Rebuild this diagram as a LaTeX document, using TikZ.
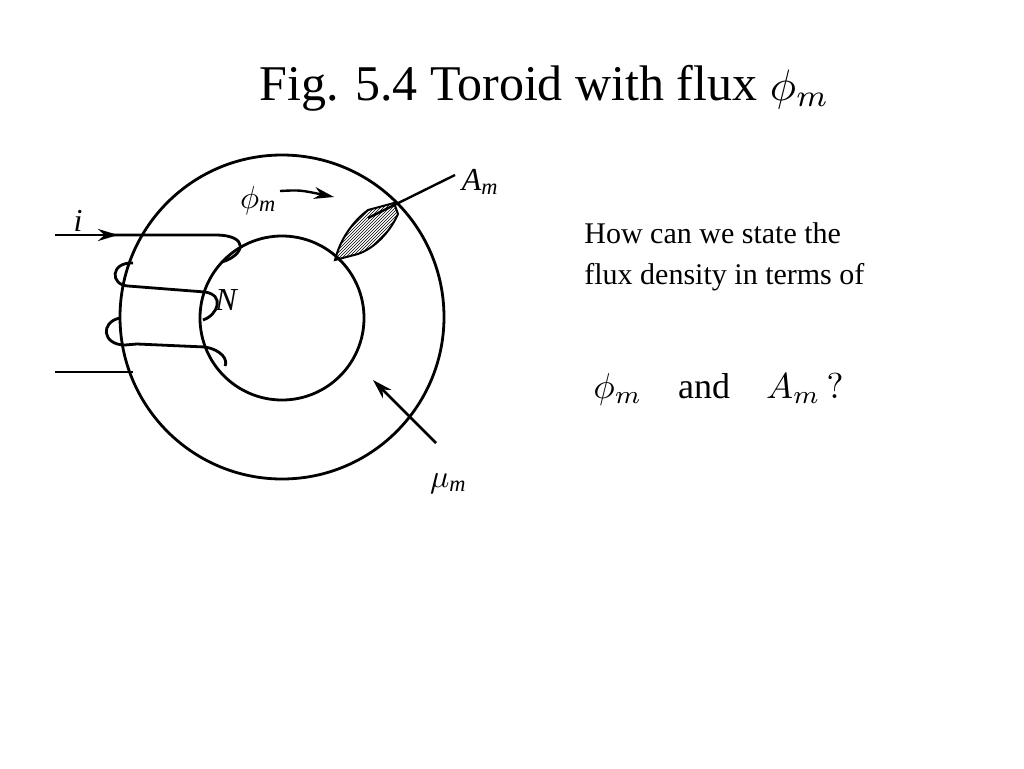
\documentclass[tikz,border=0pt]{standalone}
\usepackage{graphicx}
\usepackage{fontspec}
\setmainfont{Liberation Serif}
\usetikzlibrary{patterns,arrows.meta}
\newcommand\mscale[2]{\scalebox{#1}{\fontsize{10}{12}\selectfont$#2$}}
\begin{document}
\begin{tikzpicture}[x=1pt,y=-1pt,line width=2.8pt,
  lbl/.style={font=\fontsize{32}{34}\selectfont\itshape,inner sep=0pt},
  arr/.style={-{Stealth[length=20pt,width=12pt]}}]
\useasboundingbox (0,0) rectangle (1024,768);
\node[font=\fontsize{50}{54}\selectfont,anchor=base west,inner sep=0pt] (title) at (258,100) {Fig. 5.4 Toroid with flux \mscale{4.4}{\phi_m}};
\node[draw,circle,minimum size=324pt,inner sep=0pt] (outer) at (282,317) {};
\node[draw,circle,minimum size=164pt,inner sep=0pt] (inner) at (282,318) {};
% hatched cross-section
\draw[line width=2pt,pattern=north east lines] (335,260) .. controls (340,240) and (352,222) .. (368,210) -- (394,203) -- (398,214) .. controls (390,232) and (375,248) .. (358,254) -- cycle;
\coordinate (Aend) at (368,218);
\node[lbl] (Am) at (480,182) {A\textsubscript{m}};
\draw[line width=2.4pt] (455,175) -- (Aend);
% phi
\node[lbl] (phi) at (258,200) {\mscale{3.2}{\phi}\textsubscript{m}};
\coordinate (pa) at (280,191); \coordinate (pb) at (334,197);
\draw[arr,line width=2.4pt] (pa) .. controls (300,190) .. (pb);
% mu
\node[lbl] (mu) at (448,484) {\mscale{3.2}{\mu}\textsubscript{m}};
\coordinate (ma) at (436,443); \coordinate (mb) at (373,380);
\draw[arr] (ma) -- (mb);
% current
\node[lbl] (i) at (78,221) {i};
\coordinate (w0) at (55,235);
\draw[arr] (w0) -- (118,235);
\draw (110,235) -- (215,235) .. controls (250,235) and (245,255) .. (222,262);
\draw (133,263) .. controls (110,262) and (110,285) .. (128,286) -- (205,292) .. controls (225,295) and (218,315) .. (203,320);
\draw (120,318) .. controls (100,322) and (102,345) .. (125,345) -- (137,344) -- (205,347) .. controls (222,350) and (228,360) .. (225,366);
\coordinate (w1) at (55,372); \coordinate (w2) at (133,372);
\draw (w1) -- (w2);
\node[lbl] (N) at (226,300) {N};
% right text
\node[font=\fontsize{30}{41}\selectfont,align=left,anchor=base west,inner sep=0pt] (q) at (583,284) {How can we state the\\flux density in terms of};
\node[anchor=base west,inner sep=0pt] (q2) at (592,398) {\mscale{3.6}{\phi_m\quad\mathrm{and}\quad A_m\,?}};
\end{tikzpicture}
\end{document}
